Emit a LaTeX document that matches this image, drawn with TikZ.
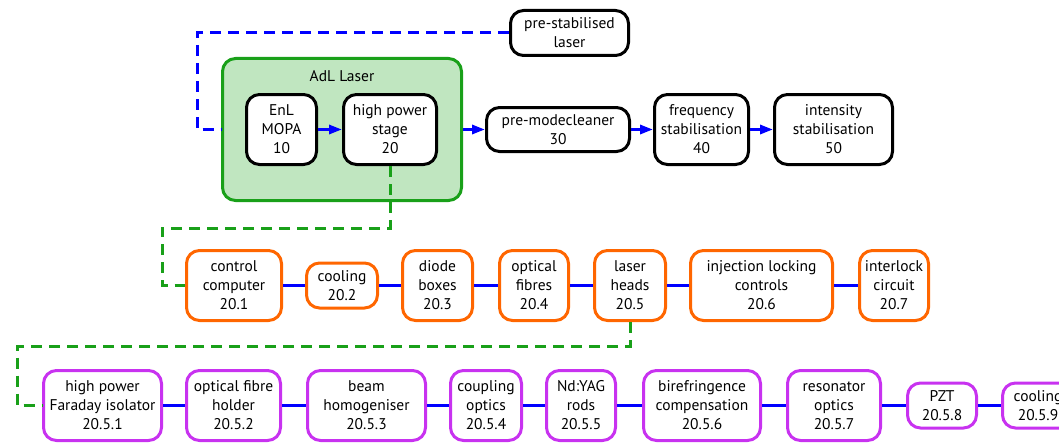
\documentclass[tikz,border=0pt]{standalone}
\usepackage{fontspec}
\setmainfont{PT Sans}
\usetikzlibrary{arrows.meta, positioning}

\definecolor{adlgreen}{RGB}{25,160,25}
\definecolor{adlfill}{RGB}{192,230,192}
\definecolor{subor}{RGB}{255,102,0}
\definecolor{subpu}{RGB}{200,50,240}

\tikzset{
  unit/.style={draw, line width=3pt, rounded corners=13pt, fill=white,
    align=center, inner sep=0pt, font=\fontsize{15.5}{19}\selectfont},
  topbox/.style={unit, draw=black},
  orbox/.style={unit, draw=subor},
  pubox/.style={unit, draw=subpu},
  flow/.style={blue, line width=3pt, -{Triangle[length=13pt,width=9pt]}},
  link/.style={blue, line width=3pt},
  bluedash/.style={blue, line width=3pt, dash pattern=on 11pt off 7pt},
  greendash/.style={adlgreen, line width=3pt, dash pattern=on 11pt off 7pt}
}

\begin{document}
\begin{tikzpicture}[x=1pt, y=-1pt]
\useasboundingbox (0,0) rectangle (1059,444);

% AdL laser group
\node[draw=adlgreen, fill=adlfill, line width=3pt, rounded corners=13pt,
  minimum width=239pt, minimum height=142pt] (adl) at (342,129.5) {};
\node[font=\fontsize{15.5}{19}\selectfont] (adltitle) at (342,76) {AdL Laser};

% top chain
\node[topbox, minimum width=118pt, minimum height=45pt] (prestab) at (569.5,33) {pre-stabilised\\laser};
\node[topbox, minimum width=70pt, minimum height=70pt] (mopa) at (281.5,129.5) {EnL\\MOPA\\10};
\node[topbox, minimum width=93pt, minimum height=70pt] (hps) at (390,129.5) {high power\\stage\\20};
\node[topbox, minimum width=143pt, minimum height=44pt] (pmc) at (558,129.5) {pre-modecleaner\\30};
\node[topbox, minimum width=94pt, minimum height=70pt] (freq) at (701.5,129.5) {frequency\\stabilisation\\40};
\node[topbox, minimum width=118pt, minimum height=70pt] (inten) at (833.5,129.5) {intensity\\stabilisation\\50};

\draw[flow] (mopa.east) -- (hps.west);
\draw[flow] (adl.east) -- (pmc.west);
\draw[flow] (pmc.east) -- (freq.west);
\draw[flow] (freq.east) -- (inten.west);

\coordinate (psbend) at (197,129.5);
\draw[bluedash] (prestab.west) -| (psbend) -- (adl.west);

% high power stage subsystems
\foreach \n/\x/\w/\h/\txt in {
  cc/234/95/70/{control\\computer\\20.1},
  coolA/342/71/45/{cooling\\20.2},
  diode/437.5/70/70/{diode\\boxes\\20.3},
  fibres/534/69/70/{optical\\fibres\\20.4},
  heads/630/71/70/{laser\\heads\\20.5},
  inj/761.5/142/70/{injection locking\\controls\\20.6},
  ilock/894/69/70/{interlock\\circuit\\20.7}} {
\node[orbox, minimum width=\w pt, minimum height=\h pt] (\n) at (\x,285.5) {\txt};
}
\foreach \a/\b in {cc/coolA, coolA/diode, diode/fibres, fibres/heads, heads/inj, inj/ilock}
  \draw[link] (\a.east) -- (\b.west);

\coordinate (hpsbend) at (162,228);
\draw[greendash] (hps.south) |- (hpsbend) |- (cc.west);

% laser head subsystems
\foreach \n/\x/\w/\h/\txt in {
  faraday/102.5/118/70/{high power\\Faraday isolator\\20.5.1},
  holder/233.5/94/70/{optical fibre\\holder\\20.5.2},
  homog/366.5/118/70/{beam\\homogeniser\\20.5.3},
  coupling/486/71/70/{coupling\\optics\\20.5.4},
  ndyag/581/69/70/{Nd:YAG\\rods\\20.5.5},
  biref/702/117/70/{birefringence\\compensation\\20.5.6},
  reson/834/93/70/{resonator\\optics\\20.5.7},
  pzt/942/69/45/{PZT\\20.5.8},
  coolB/1038/71/45/{cooling\\20.5.9}} {
\node[pubox, minimum width=\w pt, minimum height=\h pt] (\n) at (\x,405.5) {\txt};
}
\foreach \a/\b in {faraday/holder, holder/homog, homog/coupling, coupling/ndyag,
  ndyag/biref, biref/reson, reson/pzt, pzt/coolB}
  \draw[link] (\a.east) -- (\b.west);

\coordinate (headbend) at (17.5,346);
\draw[greendash] (heads.south) |- (headbend) |- (faraday.west);
\end{tikzpicture}
\end{document}
